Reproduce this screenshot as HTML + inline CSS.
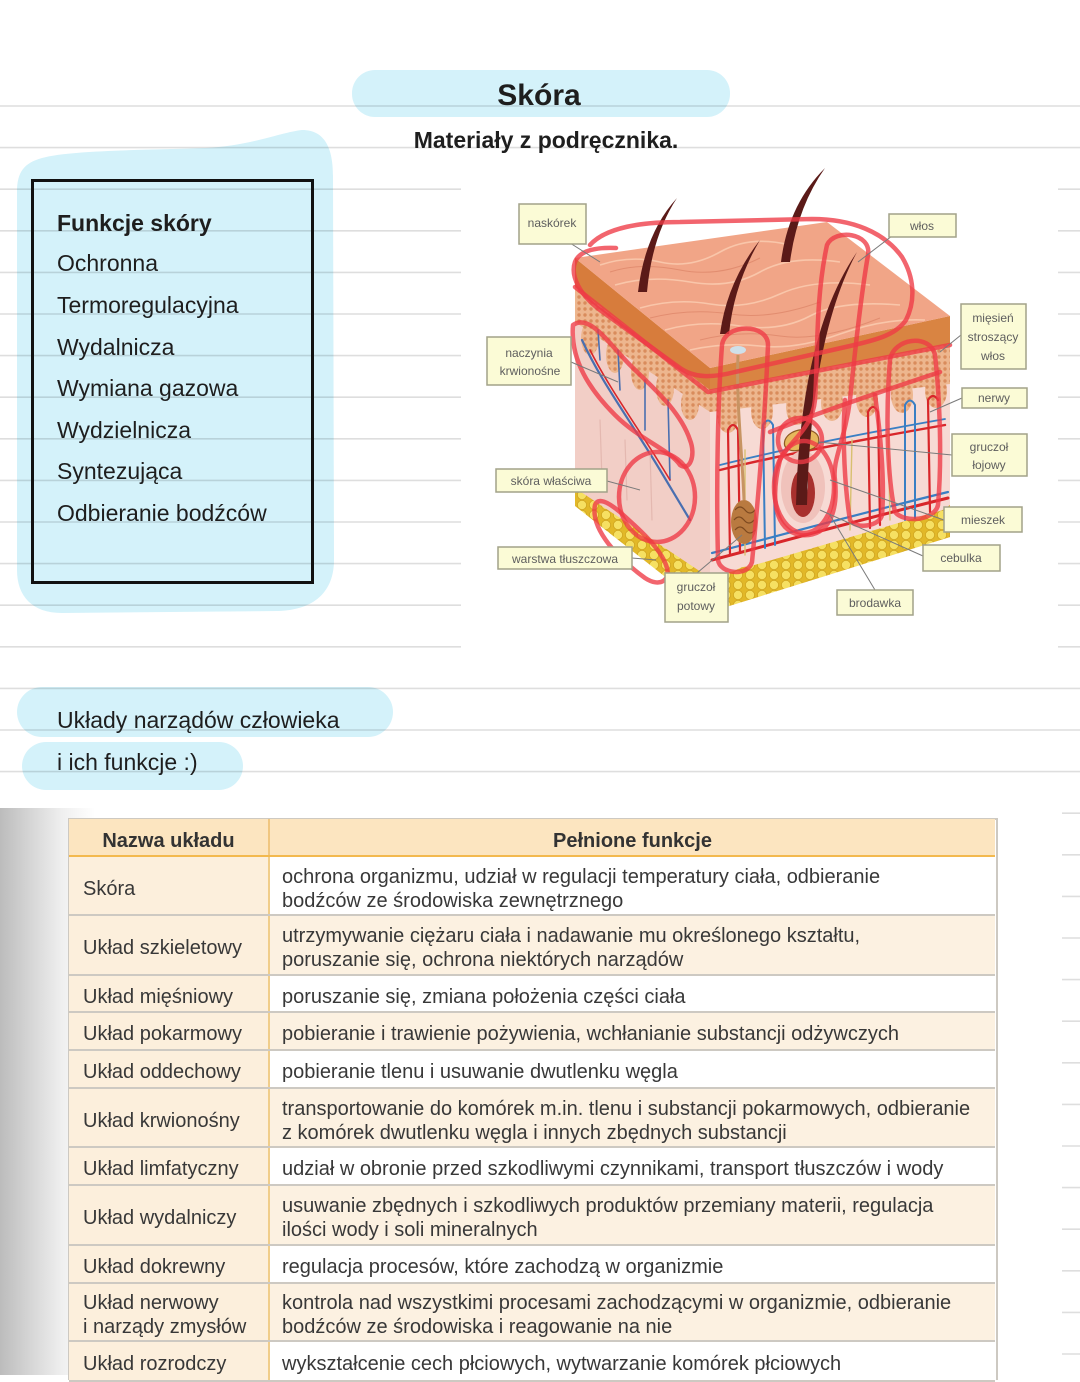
<!DOCTYPE html>
<html><head><meta charset="utf-8">
<style>
html,body{margin:0;padding:0;background:#fff;}
body{width:1080px;height:1375px;position:relative;overflow:hidden;font-family:"Liberation Sans",Arial,sans-serif;}
.t{position:absolute;white-space:nowrap;color:#1e1e1e;font-size:23px;line-height:23px;}
.b{font-weight:bold;}
.row{position:absolute;left:69px;width:926px;display:flex;box-sizing:border-box;border-bottom:2px solid #cdc9c2;}
.l{width:201px;flex:none;background:#fcefdc;border-right:2px solid #f0cd8a;box-sizing:border-box;display:flex;align-items:center;padding-left:14px;padding-top:6px;}
.c{flex:1;display:flex;align-items:center;padding-left:12px;padding-top:6px;box-sizing:border-box;}
.w{background:#fff;}
.p{background:#fcf1e1;}
.row div{font-size:20px;line-height:24px;color:#383838;white-space:nowrap;}
</style></head>
<body>
<svg width="1080" height="1375" style="position:absolute;left:0;top:0" xmlns="http://www.w3.org/2000/svg">
<defs>
<pattern id="fat" width="12" height="10" patternUnits="userSpaceOnUse">
<rect width="12" height="10" fill="#e2b828"/>
<circle cx="6" cy="5" r="4.6" fill="#f6e062" stroke="#cfa41e" stroke-width="0.8"/>
</pattern>
<pattern id="speck" width="6" height="6" patternUnits="userSpaceOnUse">
<rect width="6" height="6" fill="#edb68e"/>
<circle cx="3" cy="3" r="1.7" fill="#d98c5c"/>
</pattern>
<linearGradient id="gr" x1="0" x2="1" y1="0" y2="0">
<stop offset="0" stop-color="#bcbcbc"/>
<stop offset="0.3" stop-color="#d4d4d4"/>
<stop offset="0.65" stop-color="#efefef"/>
<stop offset="1" stop-color="#ffffff"/>
</linearGradient>
</defs>

<!-- cyan highlighter blobs -->
<g fill="#d4f2fa">
<rect x="352" y="70" width="378" height="47" rx="23"/>
<path d="M42,158 C70,150 150,150 205,148 C250,146 282,132 302,130 C326,130 333,150 333,176 L334,560 C334,592 314,610 278,611 L62,613 C32,613 17,596 17,570 L17,192 C17,172 24,163 42,158 Z"/>
<rect x="17" y="687" width="376" height="50" rx="25"/>
<rect x="22" y="742" width="221" height="48" rx="24"/>
</g>

<!-- ruled lines -->
<g stroke="#000" stroke-opacity="0.13" stroke-width="1.6">
<line x1="0" x2="1080" y1="106" y2="106"/>
<line x1="0" x2="1080" y1="147.6" y2="147.6"/>
<line x1="0" x2="1080" y1="189.2" y2="189.2"/>
<line x1="0" x2="1080" y1="230.8" y2="230.8"/>
<line x1="0" x2="1080" y1="272.4" y2="272.4"/>
<line x1="0" x2="1080" y1="314" y2="314"/>
<line x1="0" x2="1080" y1="355.6" y2="355.6"/>
<line x1="0" x2="1080" y1="397.2" y2="397.2"/>
<line x1="0" x2="1080" y1="438.8" y2="438.8"/>
<line x1="0" x2="1080" y1="480.4" y2="480.4"/>
<line x1="0" x2="1080" y1="522" y2="522"/>
<line x1="0" x2="1080" y1="563.6" y2="563.6"/>
<line x1="0" x2="1080" y1="605.2" y2="605.2"/>
<line x1="0" x2="1080" y1="646.8" y2="646.8"/>
<line x1="0" x2="1080" y1="688.4" y2="688.4"/>
<line x1="0" x2="1080" y1="730" y2="730"/>
<line x1="0" x2="1080" y1="771.6" y2="771.6"/>
<line x1="0" x2="1080" y1="813.2" y2="813.2"/>
<line x1="0" x2="1080" y1="854.8" y2="854.8"/>
<line x1="0" x2="1080" y1="896.4" y2="896.4"/>
<line x1="0" x2="1080" y1="938" y2="938"/>
<line x1="0" x2="1080" y1="979.6" y2="979.6"/>
<line x1="0" x2="1080" y1="1021.2" y2="1021.2"/>
<line x1="0" x2="1080" y1="1062.8" y2="1062.8"/>
<line x1="0" x2="1080" y1="1104.4" y2="1104.4"/>
<line x1="0" x2="1080" y1="1146" y2="1146"/>
<line x1="0" x2="1080" y1="1187.6" y2="1187.6"/>
<line x1="0" x2="1080" y1="1229.2" y2="1229.2"/>
<line x1="0" x2="1080" y1="1270.8" y2="1270.8"/>
<line x1="0" x2="1080" y1="1312.4" y2="1312.4"/>
<line x1="0" x2="1080" y1="1354" y2="1354"/>
</g>

<!-- black box -->
<rect x="32.5" y="180.5" width="280" height="402" fill="none" stroke="#111" stroke-width="3"/>

<!-- skin photo area -->
<rect x="461" y="155" width="597" height="505" fill="#fff"/>

<g id="skin">
<polygon points="575,258 710,368 710,612 575,505" fill="#f2cec6"/>
<polygon points="710,368 950,316 950,537 710,612" fill="#f7dad4"/>
<polygon points="575,488 710,578 710,612 575,506" fill="url(#fat)"/>
<polygon points="710,578 950,508 950,537 710,612" fill="url(#fat)"/>
<path d="M730,575 Q745,560 760,572 Q775,560 790,566 Q805,552 820,560 Q840,545 860,550 Q880,535 900,540 Q920,525 950,505 L950,537 L730,600 Z" fill="url(#fat)"/>
<polygon points="575,285 710,388 710,412 575,322" fill="url(#speck)"/>
<polygon points="710,388 950,342 950,384 710,412" fill="url(#speck)"/>
<g fill="url(#speck)">
<ellipse cx="590" cy="338" rx="9" ry="17"/>
<ellipse cx="615" cy="355" rx="9" ry="18"/>
<ellipse cx="640" cy="372" rx="9" ry="18"/>
<ellipse cx="665" cy="388" rx="9" ry="18"/>
<ellipse cx="690" cy="404" rx="9" ry="16"/>
<ellipse cx="728" cy="415" rx="11" ry="18"/>
<ellipse cx="762" cy="411" rx="11" ry="18"/>
<ellipse cx="797" cy="407" rx="11" ry="18"/>
<ellipse cx="832" cy="403" rx="11" ry="18"/>
<ellipse cx="867" cy="399" rx="11" ry="18"/>
<ellipse cx="902" cy="395" rx="11" ry="18"/>
<ellipse cx="936" cy="391" rx="11" ry="17"/>
</g>
<polygon points="575,258 710,368 710,390 575,287" fill="#d77c3c"/>
<polygon points="710,368 950,316 950,344 710,390" fill="#d98442"/>
<polygon points="575,258 827,222 950,316 710,368" fill="#f1a587"/>
<g fill="none" stroke="#f9c6aa" stroke-width="1.6">
<path d="M600,265 Q630,255 660,262 T720,252 T790,245"/>
<path d="M615,285 Q650,275 690,282 T760,272 T840,262"/>
<path d="M640,308 Q675,298 710,304 T780,294 T870,285"/>
<path d="M665,330 Q700,320 740,326 T810,316 T900,305"/>
<path d="M690,350 Q725,342 760,346 T840,334 T925,320"/>
</g>
<g fill="none" stroke="#e28d70" stroke-width="1">
<path d="M610,272 Q640,262 680,270 T760,258"/>
<path d="M650,318 Q690,308 730,314 T820,302"/>
<path d="M700,340 Q740,330 780,336 T880,318"/>
</g>
<g fill="none" stroke-linecap="round">
<path d="M712,560 C770,545 850,522 948,498" stroke="#d8262a" stroke-width="3"/>
<path d="M712,553 C770,538 850,516 948,492" stroke="#3a7fc4" stroke-width="2.2"/>
<path d="M720,470 C780,455 860,440 945,425" stroke="#d8262a" stroke-width="2.4"/>
<path d="M720,465 C780,450 860,434 945,419" stroke="#3a7fc4" stroke-width="1.8"/>
<path d="M730,555 L728,430 Q733,420 738,430 L740,552" stroke="#d8262a" stroke-width="2.2"/>
<path d="M765,548 L763,425 Q768,416 773,425 L775,545" stroke="#3a7fc4" stroke-width="2"/>
<path d="M870,528 L868,412 Q873,402 878,412 L880,525" stroke="#d8262a" stroke-width="2.2"/>
<path d="M905,520 L905,405 Q910,396 915,405 L915,518" stroke="#3a7fc4" stroke-width="2"/>
<path d="M930,512 L928,400 Q933,392 938,400" stroke="#d8262a" stroke-width="2.2"/>
<path d="M582,340 C600,380 630,420 660,470 L690,520" stroke="#4a6fb0" stroke-width="2.2"/>
<path d="M600,360 L598,330 M620,390 L618,350 M645,430 L645,380 M670,480 L668,400" stroke="#4a6fb0" stroke-width="1.6"/>
<path d="M590,350 C610,390 640,430 670,480" stroke="#d8262a" stroke-width="1.6"/>
<path d="M745,555 L745,450 M850,530 L852,440 M890,520 L888,430" stroke="#d8c070" stroke-width="1.4"/>
<path d="M600,420 L602,480 M625,440 L627,500 M650,450 L652,520" stroke="#e4b8b0" stroke-width="1.2"/>
</g>
<path d="M738,355 C736,400 742,450 744,500" stroke="#c79463" stroke-width="3" fill="none"/>
<ellipse cx="744" cy="522" rx="13" ry="22" fill="#b97a40"/>
<path d="M735,510 q5,-6 10,0 t10,0 M734,520 q5,-6 10,0 t10,0 M735,530 q5,-6 10,0 t10,0" stroke="#7d4a20" stroke-width="1.2" fill="none"/>
<ellipse cx="738" cy="350" rx="8" ry="4" fill="#cfe0ea"/>
<ellipse cx="803" cy="487" rx="22" ry="36" fill="#f0c2bb"/>
<ellipse cx="803" cy="493" rx="12" ry="24" fill="#a8302e"/>
<ellipse cx="803" cy="485" rx="5" ry="12" fill="#f2e0dc"/>
<path d="M785,440 C790,428 812,426 818,436 C822,448 808,452 800,450 C792,452 782,450 785,440 Z" fill="#e6b85c" stroke="#8e5a24" stroke-width="1.2"/>
<g fill="#5b1a18">
<path d="M638,292 Q645,233 677,198 Q652,236 647,292 Z"/>
<path d="M781,262 Q788,205 825,168 Q797,208 790,262 Z"/>
<path d="M720,334 Q727,282 760,240 Q734,284 729,334 Z"/>
<path d="M796,505 Q800,335 857,252 Q811,337 807,505 Z"/>
</g>
<g fill="none" stroke="#ee3a45" stroke-opacity="0.78" stroke-width="4.5" stroke-linecap="round" stroke-linejoin="round">
<path d="M590,245 C605,228 640,222 680,222 L812,219 C852,219 884,232 902,257 C914,277 916,300 906,320 C896,335 876,340 850,346 L735,372 C712,378 694,378 680,368 L600,310 C580,295 570,276 575,262 C579,252 592,247 616,248"/>
<path d="M575,287 L708,392 L950,345"/>
<path d="M827,245 C815,300 818,360 815,400 C812,430 790,440 780,460 C770,500 775,530 800,535 C830,538 838,510 835,480 C832,460 845,440 850,400 C855,350 862,290 868,255 C872,233 835,228 827,245 Z"/>
<ellipse cx="804" cy="487" rx="30" ry="46"/>
<circle cx="800" cy="440" r="22"/>
<path d="M722,345 C718,400 716,480 718,560 C720,574 748,577 752,562 C758,500 765,420 768,345 C768,323 725,323 722,345 Z"/>
<path d="M573,325 C570,360 590,390 615,415 C640,440 670,450 680,465 C690,472 696,455 690,440 C680,410 650,385 630,365 C610,345 590,313 573,325 Z"/>
<ellipse cx="657" cy="497" rx="38" ry="45"/>
<path d="M595,505 C590,530 620,560 645,578 C660,588 672,580 666,565 C660,548 640,530 620,512 C608,502 598,497 595,505 Z"/>
<path d="M890,360 C885,420 888,480 895,512 C905,524 935,520 938,505 C942,460 940,400 935,355 C930,333 893,338 890,360 Z"/>
<path d="M845,400 C842,440 845,490 850,520 C856,530 880,526 882,515 C885,480 880,430 875,395"/>
<path d="M770,432 C820,412 880,392 940,372"/>
</g>
<g stroke="#7a7a7a" stroke-width="1" fill="none">
<line x1="570" y1="243" x2="600" y2="262"/>
<line x1="892" y1="236" x2="858" y2="262"/>
<line x1="961" y1="335" x2="940" y2="352"/>
<line x1="962" y1="398" x2="930" y2="412"/>
<line x1="952" y1="455" x2="818" y2="442"/>
<line x1="944" y1="520" x2="830" y2="480"/>
<line x1="923" y1="556" x2="820" y2="510"/>
<line x1="875" y1="590" x2="830" y2="515"/>
<line x1="697" y1="573" x2="742" y2="535"/>
<line x1="632" y1="558" x2="656" y2="560"/>
<line x1="607" y1="481" x2="640" y2="490"/>
<line x1="571" y1="362" x2="618" y2="382"/>
</g>
<g fill="#fbfbd6" stroke="#a2a289" stroke-width="1.5">
<rect x="519" y="204" width="67" height="40"/>
<rect x="889" y="214" width="67" height="23"/>
<rect x="961" y="304" width="65" height="65"/>
<rect x="962" y="388" width="65" height="20"/>
<rect x="952" y="434" width="75" height="42"/>
<rect x="944" y="507" width="78" height="25"/>
<rect x="923" y="545" width="77" height="26"/>
<rect x="837" y="590" width="76" height="25"/>
<rect x="665" y="573" width="63" height="49"/>
<rect x="498" y="547" width="134" height="22"/>
<rect x="496" y="469" width="111" height="23"/>
<rect x="487" y="337" width="84" height="48"/>
</g>
<g font-family="Liberation Sans, Arial, sans-serif" font-size="12" fill="#5e5e5e" text-anchor="middle">
<text x="552" y="227">naskórek</text>
<text x="922" y="230">włos</text>
<text x="993" y="322">mięsień</text>
<text x="993" y="341">stroszący</text>
<text x="993" y="360">włos</text>
<text x="994" y="402">nerwy</text>
<text x="989" y="451">gruczoł</text>
<text x="989" y="469">łojowy</text>
<text x="983" y="524">mieszek</text>
<text x="961" y="562">cebulka</text>
<text x="875" y="607">brodawka</text>
<text x="696" y="591">gruczoł</text>
<text x="696" y="610">potowy</text>
<text x="565" y="563">warstwa tłuszczowa</text>
<text x="551" y="485">skóra właściwa</text>
<text x="529" y="357">naczynia</text>
<text x="530" y="375">krwionośne</text>
</g>
</g>

<rect x="0" y="808" width="1062" height="567" fill="#fff"/>
<rect x="0" y="808" width="95" height="567" fill="url(#gr)"/>
</svg>

<div class="t b" style="left:439px;top:81px;width:200px;text-align:center;font-size:30px;line-height:30px;">Skóra</div>
<div class="t b" style="left:346px;top:129px;width:400px;text-align:center;font-size:23px;">Materiały z podręcznika.</div>

<div class="t b" style="left:57px;top:212px;">Funkcje skóry</div>
<div class="t" style="left:57px;top:252px;">Ochronna</div>
<div class="t" style="left:57px;top:294px;">Termoregulacyjna</div>
<div class="t" style="left:57px;top:336px;">Wydalnicza</div>
<div class="t" style="left:57px;top:377px;">Wymiana gazowa</div>
<div class="t" style="left:57px;top:419px;">Wydzielnicza</div>
<div class="t" style="left:57px;top:460px;">Syntezująca</div>
<div class="t" style="left:57px;top:502px;">Odbieranie bodźców</div>

<div class="t" style="left:57px;top:709px;">Układy narządów człowieka</div>
<div class="t" style="left:57px;top:751px;">i ich funkcje :)</div>

<div style="position:absolute;left:68px;top:818px;width:926px;height:560px;border:2px solid #cdc9c2;border-bottom:none;"></div>
<div style="position:absolute;left:69px;top:819px;width:926px;height:38px;background:#fce5c0;border-bottom:2px solid #f3b94e;box-sizing:border-box;display:flex;">
<div style="width:201px;border-right:2px solid #f0c680;box-sizing:border-box;text-align:center;font-weight:bold;font-size:20px;line-height:36px;padding-top:4px;color:#333;">Nazwa układu</div>
<div style="flex:1;text-align:center;font-weight:bold;font-size:20px;line-height:36px;padding-top:4px;color:#333;">Pełnione funkcje</div>
</div>

<div class="row" style="top:857px;height:59px"><div class="l">Skóra</div><div class="c w">ochrona organizmu, udział w regulacji temperatury ciała, odbieranie<br>bodźców ze środowiska zewnętrznego</div></div>
<div class="row" style="top:916px;height:60px"><div class="l">Układ szkieletowy</div><div class="c p">utrzymywanie ciężaru ciała i nadawanie mu określonego kształtu,<br>poruszanie się, ochrona niektórych narządów</div></div>
<div class="row" style="top:976px;height:37px"><div class="l">Układ mięśniowy</div><div class="c w">poruszanie się, zmiana położenia części ciała</div></div>
<div class="row" style="top:1013px;height:38px"><div class="l">Układ pokarmowy</div><div class="c p">pobieranie i trawienie pożywienia, wchłanianie substancji odżywczych</div></div>
<div class="row" style="top:1051px;height:38px"><div class="l">Układ oddechowy</div><div class="c w">pobieranie tlenu i usuwanie dwutlenku węgla</div></div>
<div class="row" style="top:1089px;height:59px"><div class="l">Układ krwionośny</div><div class="c p">transportowanie do komórek m.in. tlenu i substancji pokarmowych, odbieranie<br>z komórek dwutlenku węgla i innych zbędnych substancji</div></div>
<div class="row" style="top:1148px;height:38px"><div class="l">Układ limfatyczny</div><div class="c w">udział w obronie przed szkodliwymi czynnikami, transport tłuszczów i wody</div></div>
<div class="row" style="top:1186px;height:60px"><div class="l">Układ wydalniczy</div><div class="c p">usuwanie zbędnych i szkodliwych produktów przemiany materii, regulacja<br>ilości wody i soli mineralnych</div></div>
<div class="row" style="top:1246px;height:38px"><div class="l">Układ dokrewny</div><div class="c w">regulacja procesów, które zachodzą w organizmie</div></div>
<div class="row" style="top:1284px;height:58px"><div class="l">Układ nerwowy<br>i narządy zmysłów</div><div class="c p">kontrola nad wszystkimi procesami zachodzącymi w organizmie, odbieranie<br>bodźców ze środowiska i reagowanie na nie</div></div>
<div class="row" style="top:1342px;height:40px"><div class="l">Układ rozrodczy</div><div class="c w">wykształcenie cech płciowych, wytwarzanie komórek płciowych</div></div>
</body></html>
